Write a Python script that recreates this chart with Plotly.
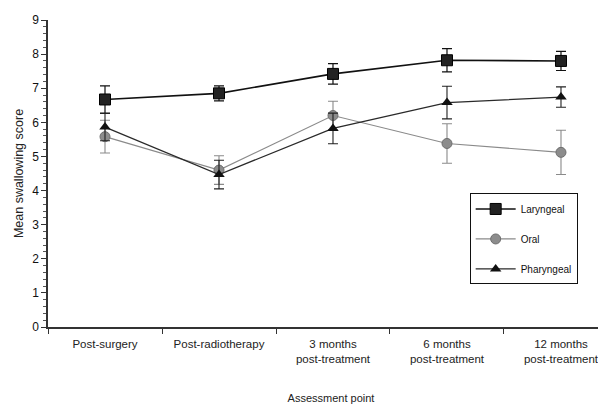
import plotly.graph_objects as go

categories = ["Post-surgery", "Post-radiotherapy", "3 months<br>post-treatment",
              "6 months<br>post-treatment", "12 months<br>post-treatment"]

laryngeal = [6.67, 6.85, 7.42, 7.82, 7.80]
laryngeal_err = [0.40, 0.22, 0.30, 0.34, 0.28]

oral = [5.58, 4.60, 6.20, 5.38, 5.12]
oral_err = [0.48, 0.42, 0.42, 0.58, 0.65]

pharyngeal = [5.86, 4.47, 5.82, 6.58, 6.74]
pharyngeal_err = [0.40, 0.42, 0.45, 0.48, 0.30]

y_ticks = [0, 1, 2, 3, 4, 5, 6, 7, 8, 9]

fig = go.Figure()

fig.add_trace(go.Scatter(
    x=categories, y=laryngeal, name="Laryngeal", mode="lines+markers",
    line=dict(color="#111111", width=1.6),
    marker=dict(symbol="square", size=11, color="#222222", line=dict(color="#000000", width=1)),
    error_y=dict(type="data", array=laryngeal_err, color="#111111", thickness=1.2, width=5),
    legendgroup="a",
))
fig.add_trace(go.Scatter(
    x=categories, y=oral, name="Oral", mode="lines+markers",
    line=dict(color="#8a8a8a", width=1.2),
    marker=dict(symbol="circle", size=10, color="#8c8c8c", line=dict(color="#6e6e6e", width=1)),
    error_y=dict(type="data", array=oral_err, color="#8a8a8a", thickness=1.1, width=5),
    legendgroup="b",
))
fig.add_trace(go.Scatter(
    x=categories, y=pharyngeal, name="Pharyngeal", mode="lines+markers",
    line=dict(color="#2a2a2a", width=1.3),
    marker=dict(symbol="triangle-up", size=10, color="#111111"),
    error_y=dict(type="data", array=pharyngeal_err, color="#222222", thickness=1.1, width=5),
    legendgroup="c",
))

fig.update_layout(
    width=606, height=417,
    margin=dict(l=40, r=0, t=12, b=98),
    paper_bgcolor="white", plot_bgcolor="white",
    font=dict(family="Liberation Sans, Arial, sans-serif", color="#222222"),
    showlegend=True,
    legend=dict(
        x=0.745, y=0.435, xanchor="left", yanchor="top",
        bordercolor="#111111", borderwidth=1, bgcolor="white",
        font=dict(size=10, color="#111111"),
        tracegroupgap=11,
        itemwidth=40,
    ),
    xaxis=dict(
        type="category",
        range=[-0.5, 4.465],
        showline=True, linecolor="#333333", linewidth=1.5,
        ticks="outside", tickson="boundaries", ticklen=5, tickcolor="#333333",
        ticklabelstandoff=5,
        showgrid=False, zeroline=False,
        tickfont=dict(size=11.5, color="#222222"),
        title=dict(text="Assessment point", font=dict(size=11, color="#222222"), standoff=31),
    ),
    yaxis=dict(
        range=[0, 9],
        tickvals=y_ticks,
        showline=True, linecolor="#333333", linewidth=1.5,
        ticks="outside", ticklen=5, tickcolor="#333333",
        minor=dict(dtick=0.2, ticks="outside", ticklen=3, tickcolor="#555555"),
        showgrid=False, zeroline=False,
        tickfont=dict(size=12, color="#111111"),
        title=dict(text="Mean swallowing score", font=dict(size=12.5, color="#222222"), standoff=6),
    ),
)

fig.write_html("out.html")
